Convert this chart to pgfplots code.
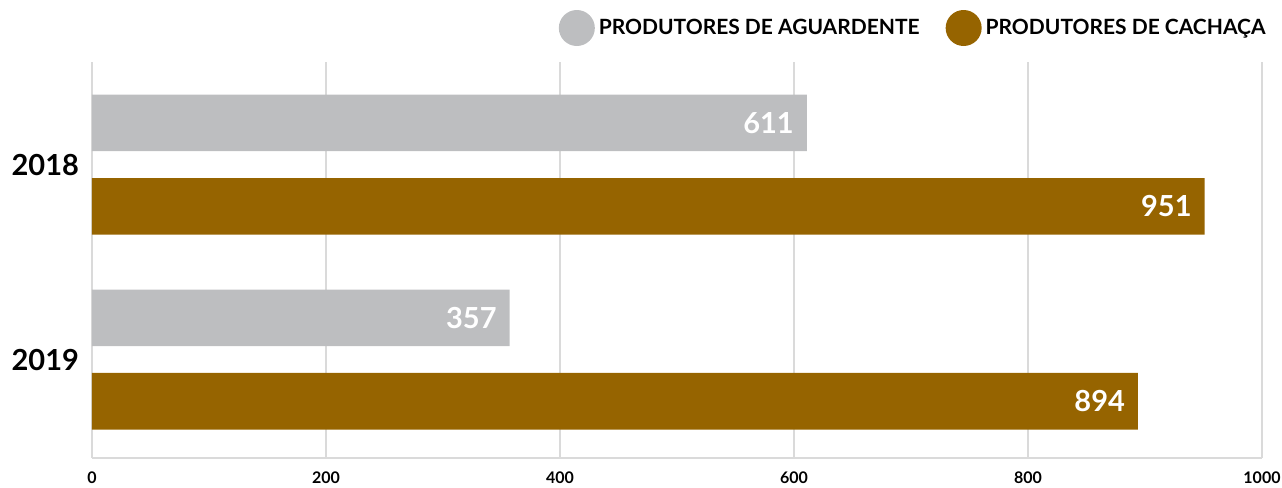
\documentclass[border=0pt]{standalone}
\usepackage{fontspec}
\setmainfont{Lato}
\usepackage{pgfplots}
\pgfplotsset{compat=1.18}
\definecolor{barGray}{RGB}{189,190,192}
\definecolor{barBrown}{RGB}{150,100,0}
\definecolor{gridGray}{RGB}{218,218,218}
\begin{document}
\begin{tikzpicture}
\useasboundingbox (0,0) rectangle (641pt,244pt);
\begin{axis}[
  at={(46pt,15pt)}, anchor=south west,
  scale only axis, width=585pt, height=198pt,
  xbar, bar width=0.29,
  xmin=0, xmax=1000, ymin=-0.505, ymax=1.526,
  xtick={0,200,...,1000}, ytick={0,1}, yticklabels={2019,2018},
  /pgf/number format/assume math mode=true,
  /pgf/number format/1000 sep={},
  axis x line*=bottom, axis y line*=left,
  axis line style={gridGray, line width=1pt, -},
  xmajorgrids, major grid style={gridGray, line width=1pt},
  major tick length=0pt,
  xticklabel style={font=\bfseries\fontsize{8}{9}\selectfont, yshift=-3.5pt},
  yticklabel style={font=\bfseries\fontsize{14.5}{16}\selectfont, xshift=-3pt},
  nodes near coords,
  nodes near coords style={anchor=east, xshift=-3pt, text=white, font=\bfseries\fontsize{14.5}{16}\selectfont},
  legend columns=2,
  legend style={at={(1,1)}, anchor=east, xshift=4pt, yshift=17pt, draw=none, fill=none, inner sep=0pt,
    font=\bfseries\fontsize{10.5}{12}\selectfont,
    /tikz/every even column/.append style={column sep=11pt}},
  legend image code/.code={\fill[#1] (9pt,0) circle (9pt);},
]
\addplot[fill=barGray, draw=none, bar shift=0.214] coordinates {(611,1) (357,0)};
\addlegendentry{PRODUTORES DE AGUARDENTE}
\addplot[fill=barBrown, draw=none, bar shift=-0.214] coordinates {(951,1) (894,0)};
\addlegendentry{PRODUTORES DE CACHAÇA}
\end{axis}
\end{tikzpicture}
\end{document}
